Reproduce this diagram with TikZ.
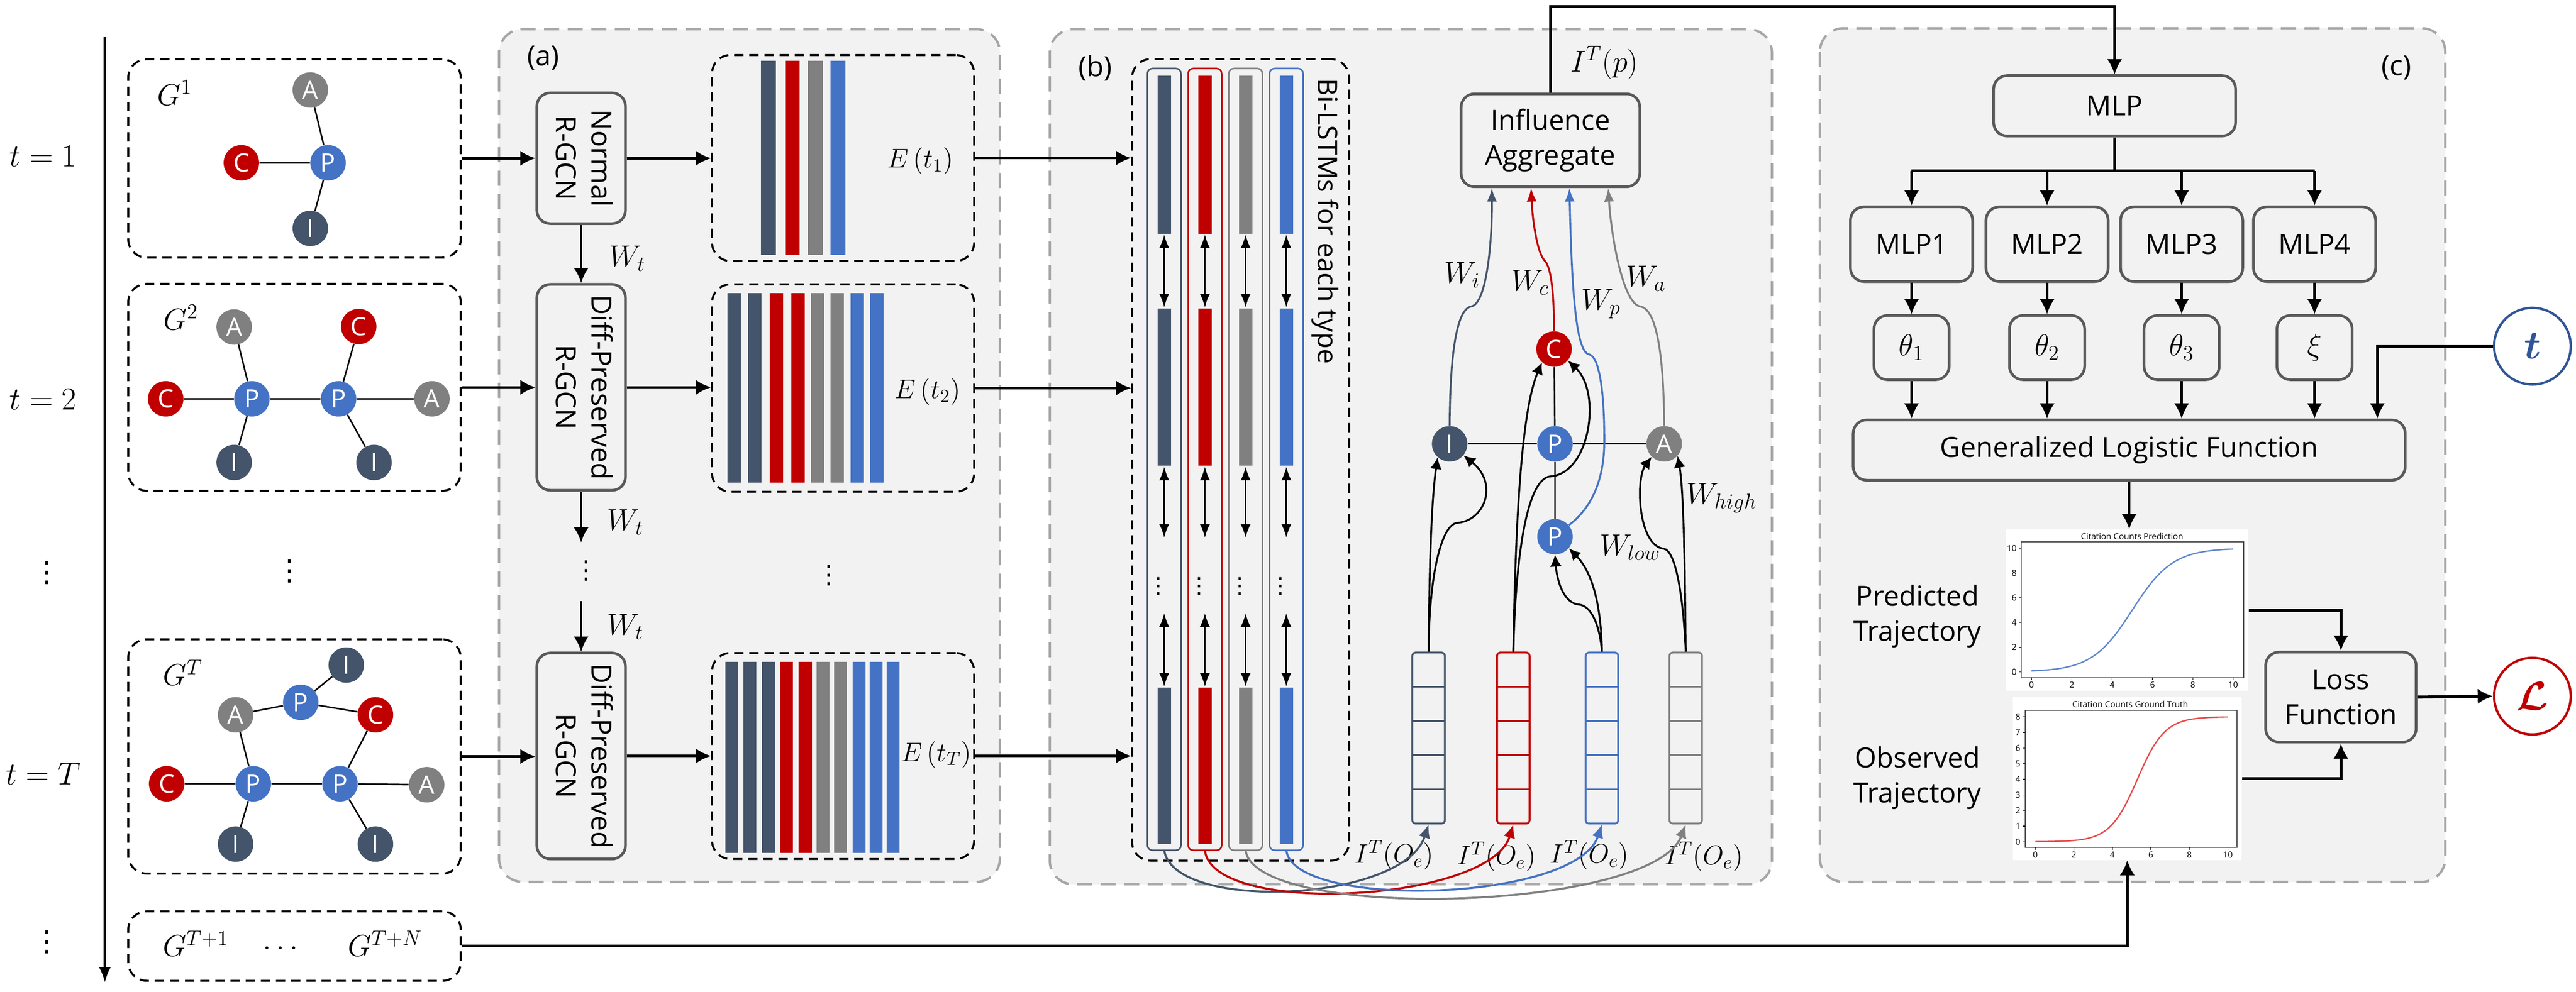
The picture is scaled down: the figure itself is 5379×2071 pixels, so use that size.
\RequirePackage{fix-cm}
\documentclass[tikz,border=0pt]{standalone}
\usepackage{amsmath}
\usepackage{fontspec}
\newfontfamily\labf{Open Sans}
\newfontfamily\dejavu{DejaVu Sans}
\usetikzlibrary{arrows.meta,calc}
\definecolor{cdark}{HTML}{44546A}
\definecolor{cred}{HTML}{C00000}
\definecolor{cgray}{HTML}{808080}
\definecolor{cblue}{HTML}{4472C4}
\definecolor{pfill}{HTML}{F2F2F2}
\definecolor{pborder}{HTML}{A6A6A6}
\definecolor{bborder}{HTML}{595959}
\definecolor{tblue}{HTML}{2F5597}
\definecolor{gtred}{HTML}{E84A4A}
\tikzset{
  panel/.style={draw=pborder, fill=pfill, line width=1.4pt, dash pattern=on 9pt off 5pt, rounded corners=14pt},
  dbox/.style={draw=black, line width=1.2pt, dash pattern=on 5.5pt off 3.5pt, rounded corners=11pt, inner sep=0pt},
  gbox/.style={draw=bborder, fill=pfill, line width=1.6pt, rounded corners=8pt, inner sep=0pt, align=center, font=\labf\fontsize{16.5}{21}\selectfont},
  gnode/.style={circle, inner sep=0pt, minimum size=0.74cm, text=white, font=\labf\fontsize{15}{15}\selectfont},
  arr/.style={line width=1.5pt, -{Latex[length=9pt,width=9pt]}},
  gedge/.style={line width=0.9pt},
  dbl/.style={line width=0.9pt, {Latex[length=8pt,width=6pt]}-{Latex[length=8pt,width=6pt]}},
  carr/.style={line width=1.1pt, -{Latex[length=7pt,width=7pt]}},
  mlab/.style={font=\fontsize{18}{22}\selectfont, inner sep=0pt},
  vdl/.style={font=\dejavu\fontsize{17}{20}\selectfont, inner sep=0pt},
  tlab/.style={font=\labf\fontsize{16.5}{21}\selectfont, align=center, inner sep=0pt},
  ticklab/.style={font=\labf\fontsize{5}{6}\selectfont, inner sep=1pt},
  fbox/.style={line width=1.1pt, rounded corners=2pt, inner sep=0pt, minimum width=0.68cm, minimum height=3.57cm},
}
\begin{document}
\begin{tikzpicture}[x=0.01cm,y=-0.01cm]
\useasboundingbox (0,0) rectangle (5379,2071);

% ---------- panels ----------
\draw[panel] (1042,61) rectangle (2088,1842);
\draw[panel] (2192,61) rectangle (3700,1847);
\draw[panel] (3800,59) rectangle (5106,1842);

% ---------- left column ----------
\coordinate (tl0) at (219,77);
\coordinate (tl1) at (219,2052);
\draw[line width=1.3pt, -{Latex[length=9pt,width=7pt]}] (tl0) -- (tl1);
\node[mlab, font=\fontsize{19}{22}\selectfont] at (90,326) {$t=1$};
\node[mlab, font=\fontsize{19}{22}\selectfont] at (90,834) {$t=2$};
\node[vdl] at (98,1196) {⋮};
\node[mlab, font=\fontsize{19}{22}\selectfont] at (90,1616) {$t=T$};
\node[vdl] at (98,1968) {⋮};
\node[vdl] at (605,1193) {⋮};

\node[dbox, minimum width=6.94cm, minimum height=4.14cm] (g1) at (615,331) {};
\node[dbox, minimum width=6.94cm, minimum height=4.32cm] (g2) at (615,809) {};
\node[dbox, minimum width=6.94cm, minimum height=4.89cm] (gT) at (615,1580) {};
\node[dbox, minimum width=6.94cm, minimum height=1.45cm] (gN) at (615,1976) {};

% G1
\node[mlab, font=\fontsize{18}{20}\selectfont] at (365,194) {$G^1$};
\node[gnode, fill=cgray] (g1a) at (648,188) {A};
\node[gnode, fill=cblue] (g1p) at (685,340) {P};
\node[gnode, fill=cred] (g1c) at (504,340) {C};
\node[gnode, fill=cdark] (g1i) at (648,477) {I};
\draw[gedge] (g1a) -- (g1p) (g1c) -- (g1p) (g1p) -- (g1i);
% G2
\node[mlab, font=\fontsize{18}{20}\selectfont] at (378,663) {$G^2$};
\node[gnode, fill=cgray] (g2a1) at (489,683) {A};
\node[gnode, fill=cred] (g2c1) at (346,833) {C};
\node[gnode, fill=cblue] (g2p1) at (526,833) {P};
\node[gnode, fill=cblue] (g2p2) at (707,833) {P};
\node[gnode, fill=cred] (g2c2) at (749,682) {C};
\node[gnode, fill=cgray] (g2a2) at (902,833) {A};
\node[gnode, fill=cdark] (g2i1) at (489,966) {I};
\node[gnode, fill=cdark] (g2i2) at (781,966) {I};
\draw[gedge] (g2c1) -- (g2p1) (g2a1) -- (g2p1) (g2p1) -- (g2i1) (g2p1) -- (g2p2)
  (g2p2) -- (g2c2) (g2p2) -- (g2a2) (g2p2) -- (g2i2);
% GT
\node[mlab, font=\fontsize{18}{20}\selectfont] at (382,1405) {$G^T$};
\node[gnode, fill=cdark] (gti0) at (723,1389) {I};
\node[gnode, fill=cblue] (gtp0) at (628,1467) {P};
\node[gnode, fill=cgray] (gta1) at (492,1493) {A};
\node[gnode, fill=cred] (gtc2) at (784,1493) {C};
\node[gnode, fill=cred] (gtc1) at (348,1637) {C};
\node[gnode, fill=cblue] (gtp1) at (529,1637) {P};
\node[gnode, fill=cblue] (gtp2) at (710,1637) {P};
\node[gnode, fill=cgray] (gta2) at (891,1639) {A};
\node[gnode, fill=cdark] (gti1) at (492,1763) {I};
\node[gnode, fill=cdark] (gti2) at (784,1763) {I};
\draw[gedge] (gta1) -- (gtp0) (gtp0) -- (gti0) (gtp0) -- (gtc2) (gta1) -- (gtp1)
  (gtc2) -- (gtp2) (gtc1) -- (gtp1) (gtp1) -- (gtp2) (gtp2) -- (gta2)
  (gtp1) -- (gti1) (gtp2) -- (gti2);
% G^{T+1}
\node[mlab, font=\fontsize{18}{20}\selectfont] at (409,1971) {$G^{T+1}$};
\node[mlab, font=\fontsize{18}{20}\selectfont] at (591,1980) {$\dots$};
\node[mlab, font=\fontsize{18}{20}\selectfont] at (804,1971) {$G^{T+N}$};

% ---------- panel (a) ----------
\node[tlab] at (1134,121) {(a)};
\node[gbox, minimum width=1.85cm, minimum height=2.73cm] (rg1) at (1213.5,330.5)
  {\rotatebox{-90}{\begin{tabular}{@{}c@{}}Normal\\R-GCN\end{tabular}}};
\node[gbox, minimum width=1.85cm, minimum height=4.30cm] (rg2) at (1213.5,809)
  {\rotatebox{-90}{\begin{tabular}{@{}c@{}}Diff-Preserved\\R-GCN\end{tabular}}};
\node[gbox, minimum width=1.85cm, minimum height=4.30cm] (rg3) at (1213.5,1579)
  {\rotatebox{-90}{\begin{tabular}{@{}c@{}}Diff-Preserved\\R-GCN\end{tabular}}};

\node[dbox, minimum width=5.47cm, minimum height=4.30cm] (e1) at (1760.5,330) {};
\node[dbox, minimum width=5.47cm, minimum height=4.33cm] (e2) at (1760.5,810.5) {};
\node[dbox, minimum width=5.47cm, minimum height=4.30cm] (e3) at (1760.5,1579) {};

\foreach \xl/\col in {1589/cdark,1639/cred,1687/cgray,1734/cblue}
  \fill[\col] (\xl,127) rectangle (\xl+31,533);
\foreach \xl/\col in {1519/cdark,1562/cdark,1607/cred,1652/cred,1693/cgray,1734/cgray,1776/cblue,1817/cblue}
  \fill[\col] (\xl,612) rectangle (\xl+28,1008);
\foreach \xl/\col in {1515/cdark,1552/cdark,1591/cdark,1629/cred,1668/cred,1705/cgray,1742/cgray,1780/cblue,1816/cblue,1851/cblue}
  \fill[\col] (\xl,1382) rectangle (\xl+27,1782);

\node[mlab, font=\fontsize{16}{20}\selectfont] at (1922,336) {$E\,(t_1)$};
\node[mlab, font=\fontsize{16}{20}\selectfont] at (1937,818) {$E\,(t_2)$};
\node[mlab, font=\fontsize{16}{20}\selectfont] at (1955,1576) {$E\,(t_T)$};
\node[vdl, font=\dejavu\fontsize{15}{18}\selectfont] at (1731,1202) {⋮};

\draw[arr] (g1.east) -- (rg1.west);
\draw[arr] (g2.east) -- (g2.east -| rg2.west);
\draw[arr] (gT.east) -- (gT.east -| rg3.west);
\draw[arr] (rg1.east) -- (rg1.east -| e1.west);
\draw[arr] (rg2.east) -- (rg2.east -| e2.west);
\draw[arr] (rg3.east) -- (rg3.east -| e3.west);

\coordinate (wa) at (1213.5,1133);
\coordinate (wb) at (1213.5,1255);
\draw[arr] (rg1.south) -- (rg2.north);
\draw[arr] (rg2.south) -- (wa);
\draw[arr] (wb) -- (rg3.north);
\node[mlab] at (1310,540) {$W_t$};
\node[mlab] at (1306,1091) {$W_t$};
\node[mlab] at (1306,1309) {$W_t$};
\node[vdl, font=\dejavu\fontsize{15}{18}\selectfont] at (1224,1192) {⋮};

% ---------- panel (b) ----------
\node[tlab] at (2287,142) {(b)};
\node[dbox, minimum width=4.53cm, minimum height=16.73cm] (lstm) at (2590.5,960.5) {};
\draw[arr] (e1.east) -- (e1.east -| lstm.west);
\draw[arr] (e2.east) -- (e2.east -| lstm.west);
\draw[arr] (e3.east) -- (e3.east -| lstm.west);

\foreach \xc/\col in {2431/cdark,2516/cred,2601/cgray,2686/cblue}{
  \draw[\col, line width=0.9pt, rounded corners=3pt] (\xc-35,143) rectangle (\xc+35,1776);
  \fill[\col] (\xc-14,158) rectangle (\xc+14,488);
  \fill[\col] (\xc-14,644) rectangle (\xc+14,973);
  \fill[\col] (\xc-14,1436) rectangle (\xc+14,1763);
  \draw[dbl] (\xc,490) -- (\xc,642);
  \draw[dbl] (\xc,975) -- (\xc,1123);
  \draw[dbl] (\xc,1281) -- (\xc,1434);
  \node[vdl, font=\dejavu\fontsize{13}{16}\selectfont] at (\xc-12,1225) {⋮};
}
\coordinate (lsD) at (2431,1776);
\coordinate (lsR) at (2516,1776);
\coordinate (lsG) at (2601,1776);
\coordinate (lsB) at (2686,1776);
\node[rotate=-90, font=\labf\fontsize{16}{19}\selectfont, inner sep=0pt] at (2767,462) {Bi-LSTMs for each type};

% feature stacks
\node[fbox, draw=cdark] (bI) at (2983,1541.5) {};
\node[fbox, draw=cred] (bC) at (3160,1541.5) {};
\node[fbox, draw=cblue] (bP) at (3345,1541.5) {};
\node[fbox, draw=cgray] (bA) at (3520,1541.5) {};
\foreach \xc/\col in {2983/cdark,3160/cred,3345/cblue,3520/cgray}
  \foreach \k in {1,2,3,4}
    \draw[\col, line width=1.1pt] (\xc-34,{1363+71.4*\k}) -- (\xc+34,{1363+71.4*\k});

\node[mlab, font=\fontsize{16}{20}\selectfont] at (2911,1786) {$I^T(O_e)$};
\node[mlab, font=\fontsize{16}{20}\selectfont] at (3125,1789) {$I^T(O_e)$};
\node[mlab, font=\fontsize{16}{20}\selectfont] at (3319,1786) {$I^T(O_e)$};
\node[mlab, font=\fontsize{16}{20}\selectfont] at (3558,1789) {$I^T(O_e)$};

\draw[cdark, line width=1.2pt, -{Latex[length=8pt,width=7pt]}] (lsD) .. controls (2450,1905) and (2930,1885) .. (bI.south);
\draw[cred, line width=1.2pt, -{Latex[length=8pt,width=7pt]}] (lsR) .. controls (2530,1915) and (3110,1885) .. (bC.south);
\draw[cgray, line width=1.2pt, -{Latex[length=8pt,width=7pt]}] (lsG) .. controls (2620,1925) and (3450,1905) .. (bA.south);
\draw[cblue, line width=1.2pt, -{Latex[length=8pt,width=7pt]}] (lsB) .. controls (2700,1900) and (3290,1885) .. (bP.south);

% influence graph
\node[gbox, minimum width=3.73cm, minimum height=1.94cm] (agg) at (3237.5,293) {Influence\\Aggregate};
\node[gnode, fill=cdark] (nI) at (3027,927) {I};
\node[gnode, fill=cblue] (nP) at (3247,927) {P};
\node[gnode, fill=cgray] (nA) at (3475,927) {A};
\node[gnode, fill=cred] (nC) at (3245,729) {C};
\node[gnode, fill=cblue] (nP2) at (3247,1121) {P};
\draw[gedge] (nI) -- (nP) -- (nA);
\draw[gedge] (nC) -- (nP) -- (nP2);

\coordinate (wD) at ($(agg.south west)+(67,0)$);
\coordinate (wR) at ($(agg.south west)+(149,0)$);
\coordinate (wB) at ($(agg.south west)+(229,0)$);
\coordinate (wG) at ($(agg.south west)+(310,0)$);
\draw[cdark, line width=1.1pt, -{Latex[length=8pt,width=6pt]}] (nI.north) .. controls (3028,720) and (3045,645) .. (3072,640) .. controls (3105,635) and (3116,500) .. (wD);
\draw[cred, line width=1.1pt, -{Latex[length=8pt,width=6pt]}] (nC.north) .. controls (3245,620) and (3240,560) .. (3226,545) .. controls (3210,530) and (3200,460) .. (wR);
\draw[cblue, line width=1.1pt, -{Latex[length=8pt,width=6pt]}] (nP2.40) .. controls (3325,1060) and (3350,1000) .. (3350,920) .. controls (3350,820) and (3340,745) .. (3318,740) .. controls (3290,735) and (3282,600) .. (wB);
\draw[cgray, line width=1.1pt, -{Latex[length=8pt,width=6pt]}] (nA.north) .. controls (3474,720) and (3455,645) .. (3425,640) .. controls (3390,635) and (3365,500) .. (wG);

\node[mlab] at (3053,574) {$W_i$};
\node[mlab] at (3195,590) {$W_c$};
\node[mlab] at (3343,635) {$W_p$};
\node[mlab] at (3437,582) {$W_a$};
\node[mlab] at (3595,1040) {$W_{high}$};
\node[mlab] at (3404,1143) {$W_{low}$};
\node[mlab] at (3350,131) {$I^T(p)$};

\coordinate (bIt) at (bI.north);
\coordinate (bCt) at (bC.north);
\coordinate (bPt) at (bP.north);
\coordinate (bAt) at (bA.north);
\draw[carr] (bIt) .. controls (2985,1150) and (2990,1040) .. (nI.228);
\draw[carr] (bIt) .. controls (2984,1200) and (3010,1095) .. (3043,1092) .. controls (3100,1088) and (3130,1010) .. (nI.320);
\draw[carr] (bCt) .. controls (3165,1050) and (3180,850) .. (nC.228);
\draw[carr] (bCt) .. controls (3165,1150) and (3190,1000) .. (3237,995) .. controls (3320,990) and (3345,820) .. (nC.320);
\draw[carr] (bPt) .. controls (3340,1300) and (3320,1265) .. (3298,1263) .. controls (3260,1260) and (3250,1200) .. (nP2.south);
\draw[carr] (bPt) .. controls (3343,1250) and (3320,1190) .. (nP2.320);
\draw[carr] (bAt) .. controls (3518,1150) and (3515,1020) .. (nA.318);
\draw[carr] (bAt) .. controls (3515,1250) and (3500,1150) .. (3474,1146) .. controls (3420,1140) and (3415,1000) .. (nA.226);

% ---------- panel (c) ----------
\node[tlab] at (5004,142) {(c)};
\node[gbox, minimum width=5.05cm, minimum height=1.26cm] (mlp) at (4415.5,221) {MLP};
\node[gbox, minimum width=2.55cm, minimum height=1.56cm] (m1) at (3991.5,510) {MLP1};
\node[gbox, minimum width=2.55cm, minimum height=1.56cm] (m2) at (4274.5,510) {MLP2};
\node[gbox, minimum width=2.55cm, minimum height=1.56cm] (m3) at (4555.5,510) {MLP3};
\node[gbox, minimum width=2.55cm, minimum height=1.56cm] (m4) at (4833,510) {MLP4};
\node[gbox, minimum width=1.57cm, minimum height=1.34cm, font=\fontsize{18}{22}\selectfont] (th1) at (3991.5,726) {$\theta_1$};
\node[gbox, minimum width=1.57cm, minimum height=1.34cm, font=\fontsize{18}{22}\selectfont] (th2) at (4274.5,726) {$\theta_2$};
\node[gbox, minimum width=1.57cm, minimum height=1.34cm, font=\fontsize{18}{22}\selectfont] (th3) at (4555.5,726) {$\theta_3$};
\node[gbox, minimum width=1.57cm, minimum height=1.34cm, font=\fontsize{18}{22}\selectfont] (th4) at (4833,726) {$\xi$};
\node[gbox, minimum width=11.52cm, minimum height=1.26cm] (glf) at (4446,940) {Generalized Logistic Function};
\node[gbox, minimum width=3.14cm, minimum height=1.88cm] (loss) at (4888,1456) {Loss\\Function};
\node[circle, draw=tblue, line width=1.4pt, minimum size=1.6cm, inner sep=0pt, text=tblue, font=\fontsize{24}{24}\selectfont] (tc) at (5288,723) {$\boldsymbol{t}$};
\node[circle, draw=cred, line width=1.4pt, minimum size=1.6cm, inner sep=0pt, text=cred, font=\fontsize{24}{24}\selectfont] (lc) at (5288,1454) {$\boldsymbol{\mathcal{L}}$};

\coordinate (topy) at (0,13);
\coordinate (split) at (0,357);
\draw[arr] (agg.north) -- (agg.north |- topy) -| (mlp.north);
\draw[line width=1.5pt] (mlp.south) -- (mlp.south |- split);
\draw[line width=1.5pt] (m1.north |- split) -- (m4.north |- split);
\foreach \m in {m1,m2,m3,m4}
  \draw[arr] (\m.north |- split) -- (\m.north);
\draw[arr] (m1) -- (th1); \draw[arr] (m2) -- (th2);
\draw[arr] (m3) -- (th3); \draw[arr] (m4) -- (th4);
\draw[arr] (th1.south) -- (th1.south |- glf.north);
\draw[arr] (th2.south) -- (th2.south |- glf.north);
\draw[arr] (th3.south) -- (th3.south |- glf.north);
\draw[arr] (th4.south) -- (th4.south |- glf.north);
\coordinate (tdrop) at ($(glf.north east)+(-61,0)$);
\draw[arr] (tc.west) -| (tdrop);

\node[tlab] at (4004,1287) {Predicted\\Trajectory};
\node[tlab] at (4004,1625) {Observed\\Trajectory};

% prediction plot
\node[fill=white, minimum width=5.07cm, minimum height=3.37cm, inner sep=0pt] (predp) at (4441.5,1274.5) {};
\draw[line width=0.5pt, black!70] (4221,1132) rectangle (4685,1415);
\node[ticklab] at (4452,1120) {Citation Counts Prediction};
\foreach \v in {0,2,...,10}{
  \draw[line width=0.4pt] (4221,{1403-25.8*\v}) -- ++(-5,0);
  \node[ticklab, anchor=east] at (4215,{1403-25.8*\v}) {\v};
  \draw[line width=0.4pt] ({4242+42.1*\v},1415) -- ++(0,5);
  \node[ticklab, anchor=north] at ({4242+42.1*\v},1420) {\v};
}
\draw[cblue!85!white, line width=0.8pt] plot[domain=0:10, samples=80, smooth] ({4242+42.1*\x},{1403-25.8*10/(1+exp(-(\x-5)))});

% ground truth plot
\node[fill=white, minimum width=4.78cm, minimum height=3.40cm, inner sep=0pt] (gtp) at (4442,1626) {};
\draw[line width=0.5pt, black!70] (4229,1484) rectangle (4671,1770);
\node[ticklab] at (4448,1471) {Citation Counts Ground Truth};
\foreach \v in {0,1,...,8}{
  \draw[line width=0.4pt] (4229,{1758-32.6*\v}) -- ++(-5,0);
  \node[ticklab, anchor=east] at (4223,{1758-32.6*\v}) {\v};
}
\foreach \v in {0,2,...,10}{
  \draw[line width=0.4pt] ({4250+40.2*\v},1770) -- ++(0,5);
  \node[ticklab, anchor=north] at ({4250+40.2*\v},1775) {\v};
}
\draw[gtred, line width=0.8pt] plot[domain=0:10, samples=80, smooth] ({4250+40.2*\x},{1758-32.6*8/(1+exp(-1.4*(\x-5.3)))});

\draw[arr] (glf.south) -- (glf.south |- predp.north);
\draw[arr, line width=1.8pt] (predp.east) -| (loss.north);
\draw[arr, line width=1.8pt] (gtp.east) -| (loss.south);
\draw[arr, line width=1.8pt] (loss.east) -- (lc.west);
\draw[arr] (gN.east) -| (gtp.south);
\end{tikzpicture}
\end{document}
